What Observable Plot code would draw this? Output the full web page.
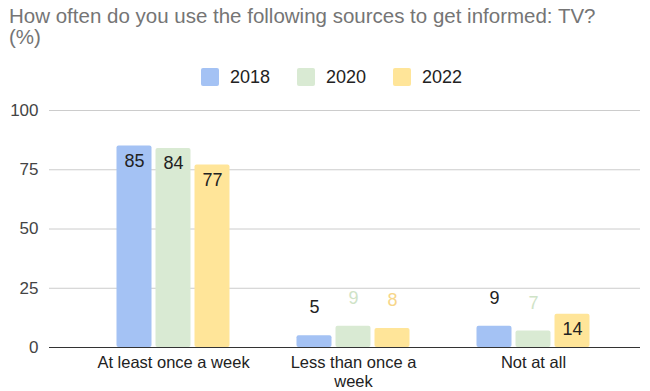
<!DOCTYPE html>
<html>
<head>
<meta charset="utf-8">
<script src="https://cdn.jsdelivr.net/npm/d3@7"></script>
<script src="https://cdn.jsdelivr.net/npm/@observablehq/plot@0.6"></script>
<style>
  body { margin: 0; background: #fff; font-family: "Liberation Sans", Arial, sans-serif; }
  #wrap { width: 650px; height: 391px; position: relative; overflow: hidden; }
  #title { position: absolute; left: 9px; top: 5px; font-size: 20.5px; line-height: 21px; color: #757575; width: 640px; }
  #legend { position: absolute; top: 68px; left: 0; width: 650px; height: 20px; }
  .sw { position: absolute; top: 0; width: 18px; height: 18px; border-radius: 2px; }
  .lt { position: absolute; top: 0; font-size: 18px; line-height: 18px; color: #222; }
  #chart { position: absolute; left: 0; top: 92px; }
</style>
</head>
<body>
<div id="wrap">
  <div id="title">How often do you use the following sources to get informed: TV?<br>(%)</div>
  <div id="legend"></div>
  <div id="chart"></div>
</div>
<script>
const categories = ["At least once a week", "Less than once a week", "Not at all"];
const years = ["2018", "2020", "2022"];
const values2018 = [85, 5, 9];
const values2020 = [84, 9, 7];
const values2022 = [77, 8, 14];
const yTicks = [0, 25, 50, 75, 100];

const colors = ["#a4c2f4", "#d9ead3", "#ffe599"];
const outsideLabelColors = ["#222222", "#cfe3c7", "#f7d689"];
const offsets = [-39, 0, 39];
const series = [values2018, values2020, values2022];

// legend
const legend = document.getElementById("legend");
const swX = [201, 297, 393];
years.forEach((yr, i) => {
  const s = document.createElement("div");
  s.className = "sw"; s.style.left = swX[i] + "px"; s.style.background = colors[i];
  legend.appendChild(s);
  const t = document.createElement("div");
  t.className = "lt"; t.style.left = (swX[i] + 29) + "px"; t.textContent = yr;
  legend.appendChild(t);
});

const data = [];
years.forEach((yr, i) => categories.forEach((c, j) => data.push({cat: c, year: yr, value: series[i][j], si: i})));

const wrapLabel = {"Less than once a week": "Less than once a\nweek"};

const marks = [
  Plot.ruleY(yTicks.filter(d => d > 0), {stroke: "#cccccc", strokeWidth: 1}),
  Plot.axisY({ticks: yTicks, tickSize: 0, tickPadding: 11, fontSize: 17, color: "#444", label: null}),
  Plot.axisX({tickSize: 0, tickPadding: 7, fontSize: 16.5, color: "#222", label: null,
    tickFormat: d => wrapLabel[d] || d, lineHeight: 1.15})
];
years.forEach((yr, i) => {
  const sub = data.filter(d => d.year === yr);
  marks.push(Plot.barY(sub, {x: "cat", y: "value", fill: colors[i], dx: offsets[i], insetLeft: 72.5, insetRight: 72.5, rx: 2}));
  marks.push(Plot.text(sub.filter(d => d.value > 12), {x: "cat", y: "value", text: d => String(d.value), dx: offsets[i], dy: 15, fontSize: 18, fill: "#222"}));
  marks.push(Plot.text(sub.filter(d => d.value <= 12), {x: "cat", y: "value", text: d => String(d.value), dx: offsets[i], dy: -28, fontSize: 18, fill: outsideLabelColors[i]}));
});
marks.push(Plot.ruleY([0], {stroke: "#333", strokeWidth: 1.2}));

const chart = Plot.plot({
  width: 650,
  height: 299,
  marginTop: 18,
  marginBottom: 44,
  marginLeft: 49,
  marginRight: 10,
  style: {fontFamily: "'Liberation Sans', Arial, sans-serif", background: "transparent"},
  x: {type: "band", domain: categories, range: [82, 623], padding: 0},
  y: {domain: [0, 100]},
  marks
});
document.getElementById("chart").appendChild(chart);
</script>
</body>
</html>
